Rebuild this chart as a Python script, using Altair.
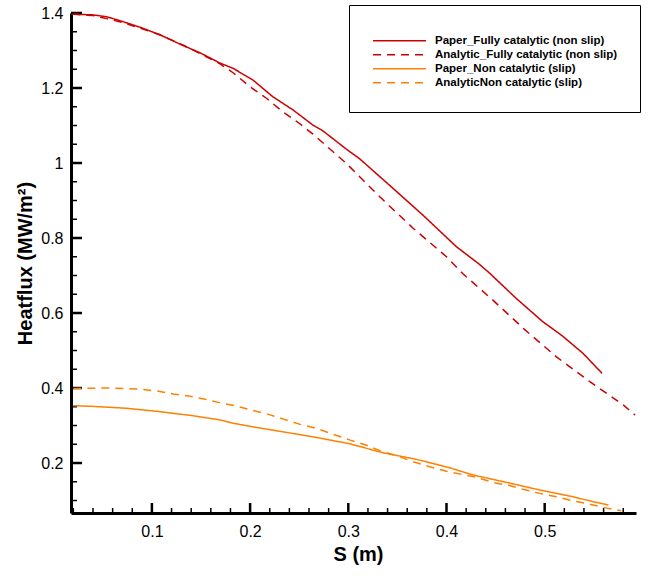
import altair as alt
import pandas as pd

# ---- data ----
paper_fully_s = [0.019, 0.040, 0.054, 0.068, 0.088, 0.108, 0.132, 0.149, 0.169, 0.183, 0.203, 0.223,
                 0.244, 0.264, 0.274, 0.298, 0.311, 0.3455, 0.376, 0.410, 0.433, 0.444, 0.471, 0.498,
                 0.518, 0.539, 0.5585]
paper_fully_q = [1.397, 1.395, 1.390, 1.379, 1.362, 1.342, 1.313, 1.294, 1.267, 1.252, 1.221, 1.177,
                 1.141, 1.101, 1.086, 1.037, 1.0125, 0.9325, 0.861, 0.777, 0.731, 0.706, 0.639, 0.577,
                 0.539, 0.4925, 0.439]

analytic_fully_s = [0.019, 0.040, 0.054, 0.068, 0.088, 0.108, 0.132, 0.149, 0.169, 0.183, 0.200, 0.217,
                    0.233, 0.250, 0.264, 0.298, 0.332, 0.366, 0.400, 0.417, 0.447, 0.480, 0.512, 0.546,
                    0.580, 0.592]
analytic_fully_q = [1.397, 1.393, 1.385, 1.376, 1.360, 1.342, 1.314, 1.292, 1.265, 1.240, 1.203, 1.172,
                    1.137, 1.106, 1.077, 0.999, 0.910, 0.826, 0.750, 0.704, 0.635, 0.555, 0.483, 0.417,
                    0.355, 0.328]

paper_non_s = [0.020, 0.040, 0.074, 0.108, 0.142, 0.169, 0.183, 0.206, 0.234, 0.268, 0.302, 0.335,
               0.369, 0.403, 0.427, 0.461, 0.495, 0.529, 0.549, 0.565]
paper_non_q = [0.353, 0.351, 0.346, 0.337, 0.326, 0.315, 0.306, 0.295, 0.283, 0.268, 0.251, 0.2275,
               0.210, 0.1875, 0.168, 0.1485, 0.128, 0.110, 0.097, 0.088]

analytic_non_s = [0.020, 0.057, 0.088, 0.105, 0.122, 0.137, 0.154, 0.169, 0.186, 0.203, 0.217, 0.234,
                  0.251, 0.268, 0.285, 0.302, 0.318, 0.332, 0.352, 0.366, 0.383, 0.400, 0.413, 0.430,
                  0.447, 0.464, 0.478, 0.495, 0.512, 0.529, 0.544, 0.561, 0.578]
analytic_non_q = [0.399, 0.400, 0.397, 0.392, 0.384, 0.379, 0.370, 0.361, 0.352, 0.340, 0.331, 0.317,
                  0.303, 0.292, 0.276, 0.261, 0.248, 0.233, 0.217, 0.2035, 0.190, 0.178, 0.171, 0.162,
                  0.1485, 0.140, 0.130, 0.119, 0.110, 0.099, 0.091, 0.081, 0.0725]

series_names = ["Paper_Fully catalytic (non slip)", "Analytic_Fully catalytic (non slip)",
                "Paper_Non catalytic (slip)", "AnalyticNon catalytic (slip)"]

x_major = [0.1, 0.2, 0.3, 0.4, 0.5]
x_minor = [0.02, 0.04, 0.06, 0.08, 0.12, 0.14, 0.16, 0.18, 0.22, 0.24, 0.26, 0.28, 0.32, 0.34,
           0.36, 0.38, 0.42, 0.44, 0.46, 0.48, 0.52, 0.54, 0.56, 0.58]
y_major = [0.2, 0.4, 0.6, 0.8, 1.0, 1.2, 1.4]
y_minor = [0.1, 0.15, 0.25, 0.3, 0.35, 0.45, 0.5, 0.55, 0.65, 0.7, 0.75, 0.85, 0.9, 0.95, 1.05,
           1.1, 1.15, 1.25, 1.3, 1.35]

# ---- styles ----
colors = ["#CC0000", "#CC0000", "#FF8000", "#FF8000"]
dashes = [[1, 0], [8, 6], [1, 0], [8, 6]]
widths = [1.5, 1.5, 2, 2]

rows = []
for i, (name, xs, ys) in enumerate(zip(series_names,
                                       [paper_fully_s, analytic_fully_s, paper_non_s, analytic_non_s],
                                       [paper_fully_q, analytic_fully_q, paper_non_q, analytic_non_q])):
    for j, (a, b) in enumerate(zip(xs, ys)):
        rows.append({"series": name, "s": a, "q": b, "k": j})
df = pd.DataFrame(rows)

W, H = 565, 500
xscale = alt.Scale(domain=[0.0176, 0.593], nice=False, zero=False)
yscale = alt.Scale(domain=[0.0667, 1.4], nice=False, zero=False)

label_font = "Liberation Sans"
xaxis = alt.Axis(values=x_major, format="~g", title="S (m)", ticks=False, tickSize=0, grid=False,
                 domainColor="black", domainWidth=3, labelFont=label_font, labelFontSize=16,
                 labelColor="black", labelPadding=10, titleFont=label_font, titleFontSize=20,
                 titleFontWeight="bold", titleColor="black", titleBaseline="alphabetic",
                 titleY=47, titleX=287)
yaxis = alt.Axis(values=y_major, format="~g", title="Heatflux (MW/m²)", ticks=False, tickSize=0,
                 grid=False, domainColor="black", domainWidth=3, labelFont=label_font,
                 labelFontSize=16, labelColor="black", labelPadding=8, titleFont=label_font,
                 titleFontSize=20, titleFontWeight="bold", titleColor="black",
                 titleBaseline="middle", titleX=-46, titleY=250, titleAngle=-90)

legend = alt.Legend(title=" ", titleFontSize=6, titlePadding=1, orient="none", legendX=278,
                    legendY=-8, strokeColor="black", fillColor="white", padding=22,
                    symbolType="stroke", symbolSize=2800, symbolStrokeWidth=2, symbolOffset=1,
                    labelFont=label_font, labelFontWeight="bold", labelFontSize=11.5,
                    labelColor="black", labelOffset=8, labelLimit=400, rowPadding=0,
                    clipHeight=13.7)

lines = alt.Chart(df).mark_line(clip=True).encode(
    x=alt.X("s:Q", scale=xscale, axis=xaxis),
    y=alt.Y("q:Q", scale=yscale, axis=yaxis),
    color=alt.Color("series:N", scale=alt.Scale(domain=series_names, range=colors), legend=legend),
    strokeDash=alt.StrokeDash("series:N", scale=alt.Scale(domain=series_names, range=dashes),
                              legend=legend),
    strokeWidth=alt.StrokeWidth("series:N", scale=alt.Scale(domain=series_names, range=widths),
                                legend=None),
    order="k:Q",
)

ytick_major = alt.Chart(pd.DataFrame({"q": y_major})).mark_rule(color="black", strokeWidth=2.5).encode(
    y=alt.Y("q:Q", scale=yscale, axis=yaxis), x=alt.value(0), x2=alt.value(11))
ytick_minor = alt.Chart(pd.DataFrame({"q": y_minor})).mark_rule(color="black", strokeWidth=1.5).encode(
    y=alt.Y("q:Q", scale=yscale, axis=yaxis), x=alt.value(0), x2=alt.value(6))
xtick_major = alt.Chart(pd.DataFrame({"s": x_major})).mark_rule(color="black", strokeWidth=2.5).encode(
    x=alt.X("s:Q", scale=xscale, axis=xaxis), y=alt.value(H), y2=alt.value(H - 10))
xtick_minor = alt.Chart(pd.DataFrame({"s": x_minor})).mark_rule(color="black", strokeWidth=1.5).encode(
    x=alt.X("s:Q", scale=xscale, axis=xaxis), y=alt.value(H), y2=alt.value(H - 5))

chart = alt.layer(ytick_major, ytick_minor, xtick_major, xtick_minor, lines).properties(
    width=W, height=H,
    autosize=alt.AutoSizeParams(type="none"),
    padding={"left": 71, "top": 13, "right": 14, "bottom": 65},
    background="white",
).configure_view(stroke=None)

chart.save("out.html", embed_options={"renderer": "svg", "actions": False})
